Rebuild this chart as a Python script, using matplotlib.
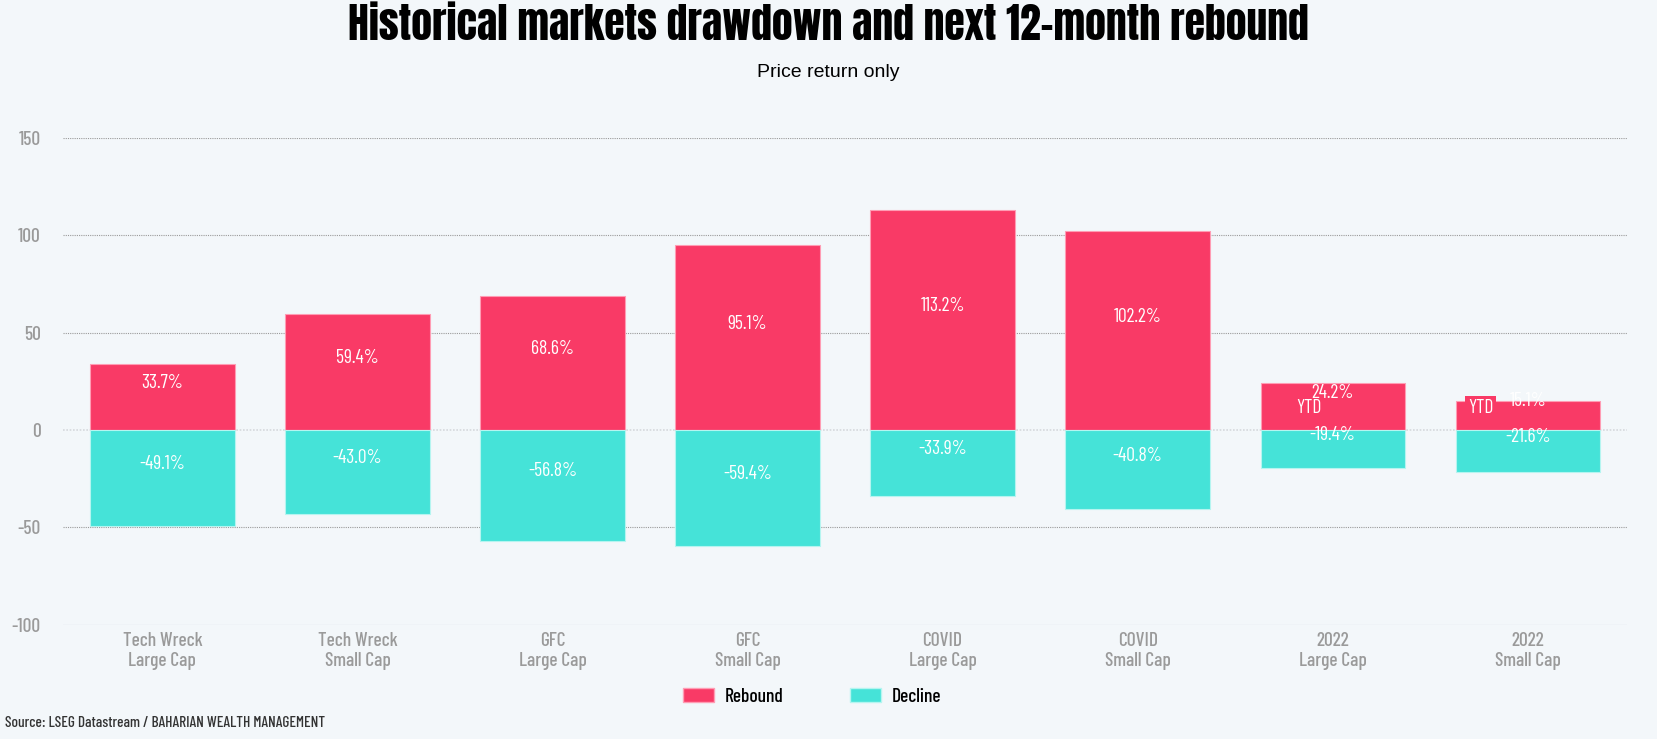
import matplotlib.pyplot as plt
from matplotlib.patches import Patch

#===========================================================================
# Data
#===========================================================================
categories = ["Tech Wreck\nLarge Cap", "Tech Wreck\nSmall Cap", "GFC\nLarge Cap", "GFC\nSmall Cap",
              "COVID\nLarge Cap", "COVID\nSmall Cap", "2022\nLarge Cap", "2022\nSmall Cap"]
rebound = [33.7, 59.4, 68.6, 95.1, 113.2, 102.2, 24.2, 15.1]
decline = [-49.1, -43.0, -56.8, -59.4, -33.9, -40.8, -19.4, -21.6]
y_ticks = [-100, -50, 0, 50, 100, 150]

REBOUND_COLOR = "#F93A66"
DECLINE_COLOR = "#45E3D8"
BG_COLOR = "#F3F7FA"
GREY = "#9A9A9A"

plt.rcParams['font.family'] = ['Barlow Condensed', 'DejaVu Sans']
plt.rcParams['axes.unicode_minus'] = False

fig = plt.figure(figsize=(16.57, 7.39), dpi=100, facecolor=BG_COLOR)
ax = fig.add_axes([0.038, 0.1548, 0.944, 0.6585], facecolor=BG_COLOR)

#===========================================================================
# Bars
#===========================================================================
x = list(range(len(categories)))
ax.bar(x, rebound, width=0.74, color=REBOUND_COLOR, edgecolor="#FF9DB4", linewidth=0.8, zorder=3)
ax.bar(x, decline, width=0.74, color=DECLINE_COLOR, edgecolor="#B5F5F0", linewidth=0.8, zorder=3)

# value labels sit a bit above the middle of each bar
for i in x:
    ax.annotate("{:.1f}%".format(rebound[i]), (i, rebound[i] / 2), xytext=(0, 10),
                textcoords="offset points", ha="center", va="center", color="white",
                fontsize=14, zorder=5)
    ax.annotate("{:.1f}%".format(decline[i]), (i, decline[i] / 2), xytext=(0, 10),
                textcoords="offset points", ha="center", va="center", color="white",
                fontsize=14, zorder=5)

# the two YTD tags (the second one sits in a little box that hides part of its value)
ax.annotate("YTD", (6, 0), xytext=(-17, 16), textcoords="offset points",
            ha="center", va="center", color="white", fontsize=14, zorder=6)
ax.annotate("YTD", (7, 0), xytext=(-34, 16), textcoords="offset points",
            ha="center", va="center", color="white", fontsize=14, zorder=6,
            bbox=dict(boxstyle="square,pad=0.15", facecolor=REBOUND_COLOR, edgecolor="none"))

#===========================================================================
# Axes styling
#===========================================================================
ax.set_xlim(-0.51, 7.51)
ax.set_ylim(-100, 150)
ax.set_yticks(y_ticks)
ax.set_xticks(x)
ax.set_xticklabels(categories, color=GREY, fontsize=14, linespacing=1.2, fontweight="medium")
ax.tick_params(axis="y", length=0, pad=16, labelcolor=GREY, labelsize=14)
ax.tick_params(axis="x", length=0, pad=5)
for lab in ax.get_yticklabels():
    lab.set_horizontalalignment("right")
    lab.set_fontweight("medium")
for s in ax.spines.values():
    s.set_visible(False)

for t in y_ticks:
    if t == 0:
        ax.axhline(t, color="#D5D8DC", linewidth=1.2, linestyle=(0, (1, 1)), zorder=1)
    elif t == -100:
        ax.axhline(t, color="#E3E7EC", linewidth=1.0, zorder=1)
    else:
        ax.axhline(t, color=GREY, linewidth=0.8, linestyle=(0, (1, 1)), zorder=1)

#===========================================================================
# Titles, legend, source
#===========================================================================
fig.text(0.5, 0.946, "Historical markets drawdown and next 12-month rebound", ha="center",
         va="baseline", fontsize=30, family=["Anton", "DejaVu Sans"], color="black")
fig.text(0.5, 0.902, "Price return only", ha="center", va="center", fontsize=14,
         family=["Liberation Sans", "DejaVu Sans"], color="black")

handles = [Patch(facecolor=REBOUND_COLOR, edgecolor="#FF9DB4", label="Rebound"),
           Patch(facecolor=DECLINE_COLOR, edgecolor="#B5F5F0", label="Decline")]
fig.legend(handles=handles, loc="center", bbox_to_anchor=(0.49, 0.057), ncol=2, frameon=False,
           prop={"size": 14, "weight": "medium"}, handlelength=1.6, handleheight=0.7,
           handletextpad=0.55, columnspacing=3.4)

fig.text(0.003, 0.022, "Source: LSEG Datastream / BAHARIAN WEALTH MANAGEMENT", ha="left", va="center",
         fontsize=11, fontweight="medium", color="#333333")

fig.savefig("out.png", dpi=100, facecolor=BG_COLOR)
